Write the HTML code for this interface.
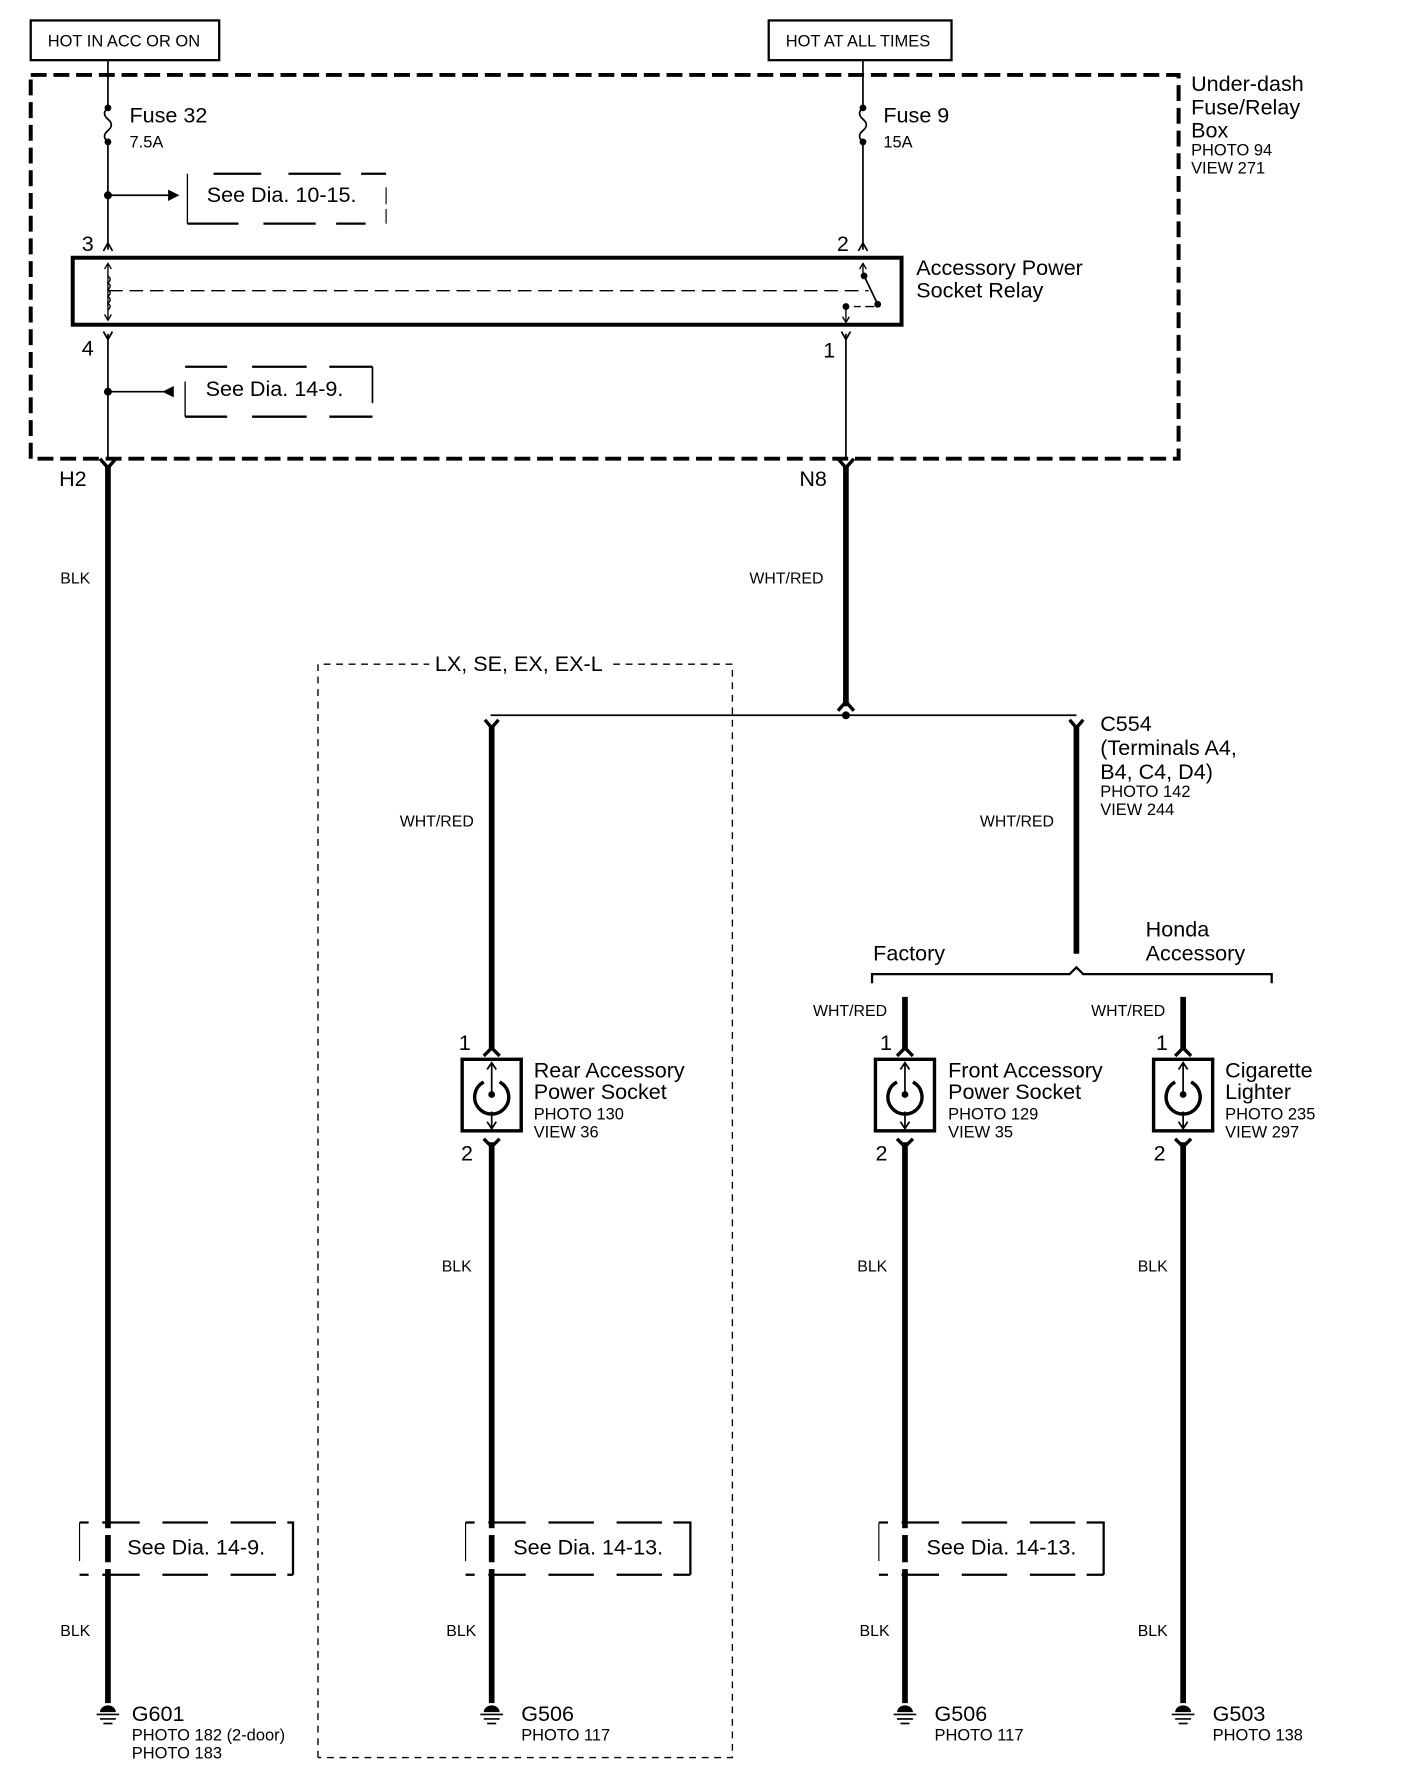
<!DOCTYPE html>
<html><head><meta charset="utf-8"><style>
html,body{margin:0;padding:0;background:#fff;}
svg{display:block;}
text{font-family:"Liberation Sans",sans-serif;fill:#000;}
.l{font-size:19px;}
.s{font-size:14.5px;}
.w{font-size:14px;}
</style></head><body>
<svg width="1408" height="1778" viewBox="0 0 1240 1566" xmlns="http://www.w3.org/2000/svg">
<defs>
<g id="sock">
  <rect x="-26" y="0" width="52" height="63" fill="none" stroke="#000" stroke-width="3"/>
  <path d="M-7,20 A15,15 0 1,0 7,20" fill="none" stroke="#000" stroke-width="3"/>
  <line x1="0" y1="4" x2="0" y2="31" stroke="#000" stroke-width="1.5"/>
  <path d="M-4,9 L0,3 L4,9" fill="none" stroke="#000" stroke-width="1.5"/>
  <circle cx="0" cy="31" r="3"/>
  <line x1="0" y1="46" x2="0" y2="62" stroke="#000" stroke-width="1.5"/>
  <path d="M-4,55 L0,61 L4,55" fill="none" stroke="#000" stroke-width="1.5"/>
</g>
<g id="gnd">
  <path d="M-7,0 A7,6 0 0,1 7,0 Z"/>
  <line x1="-10" y1="2" x2="10" y2="2" stroke="#000" stroke-width="1.5"/>
  <line x1="-7" y1="6" x2="7" y2="6" stroke="#000" stroke-width="1.5"/>
  <line x1="-4" y1="10" x2="4" y2="10" stroke="#000" stroke-width="1.5"/>
</g>
</defs>
<g fill="none" stroke="#000">
<rect x="27" y="18" width="166" height="35" stroke-width="2"/>
<rect x="677" y="18" width="161" height="35" stroke-width="2"/>
<rect x="27" y="66" width="1011" height="338" stroke-width="3.5" stroke-dasharray="14,6"/>
<line x1="95" y1="53" x2="95" y2="93" stroke-width="1.5"/>
<path d="M95,95 q-6,5 0,10 q6,5 0,10 q-6,5 0,10" stroke-width="1.5"/>
<line x1="95" y1="125" x2="95" y2="220" stroke-width="1.5"/>
<line x1="95" y1="172" x2="150" y2="172" stroke-width="1.5"/>
<path d="M188,153 H230 M254,153 H300 M318,153 H340 M165,197 H210 M232,197 H278 M296,197 H322" stroke-width="2"/>
<line x1="165" y1="153" x2="165" y2="197" stroke-width="1.2"/>
<line x1="340" y1="184" x2="340" y2="197" stroke-width="1"/><line x1="340" y1="165" x2="340" y2="180" stroke-width="1"/>
<path d="M91,221 L95,214 L99,221 M756,221 L760,214 L764,221" stroke-width="1.5"/>
<line x1="760" y1="53" x2="760" y2="93" stroke-width="1.5"/>
<path d="M760,95 q-6,5 0,10 q6,5 0,10 q-6,5 0,10" stroke-width="1.5"/>
<line x1="760" y1="125" x2="760" y2="220" stroke-width="1.5"/>
<rect x="64" y="227" width="730" height="59" stroke-width="3.5"/>
<line x1="95" y1="232" x2="95" y2="282" stroke-width="1.2"/>
<path d="M92,237 L95,232 L98,237 M92,277 L95,282 L98,277" stroke-width="1.2"/>
<path d="M95,243 q4,3 0,6 q4,3 0,6 q4,3 0,6 q4,3 0,6 q4,3 0,6" stroke-width="1.2"/>
<line x1="96" y1="256" x2="765" y2="256" stroke-width="1.2" stroke-dasharray="12,6"/>
<line x1="760" y1="232" x2="760" y2="243" stroke-width="1.2"/>
<path d="M757,237 L760,232 L763,237" stroke-width="1.2"/>
<line x1="761" y1="243" x2="773" y2="268" stroke-width="1.5"/>
<path d="M745,270 H748 M752,270 H758 M762,270 H770" stroke-width="1.2"/>
<line x1="745" y1="270" x2="745" y2="284" stroke-width="1.2"/>
<path d="M742,279 L745,284 L748,279" stroke-width="1.2"/>
<path d="M91,292 L95,299 L99,292 M741,292 L745,299 L749,292" stroke-width="1.5"/>
<line x1="95" y1="294" x2="95" y2="404" stroke-width="1.5"/>
<line x1="745" y1="294" x2="745" y2="404" stroke-width="1.5"/>
<line x1="95" y1="345" x2="145" y2="345" stroke-width="1.5"/>
<path d="M163,323 H200 M222,323 H270 M290,323 H328 M163,367 H200 M222,367 H270 M290,367 H328" stroke-width="2"/>
<line x1="163" y1="336" x2="163" y2="367" stroke-width="1.2"/>
<line x1="328" y1="323" x2="328" y2="355" stroke-width="1.5"/>
<path d="M88,404 L95,412 L102,404 M738,404 L745,412 L752,404" stroke-width="3"/>
<line x1="95" y1="410" x2="95" y2="1500" stroke-width="5"/>
<line x1="745" y1="410" x2="745" y2="622" stroke-width="5"/>
<path d="M738,626 L745,618 L752,626" stroke-width="3"/>
<line x1="432" y1="630" x2="948" y2="630" stroke-width="1.5"/>
<path d="M280,1548 V585 H378 M540,585 H645 V1548 H280" stroke-width="1.2" stroke-dasharray="6,5"/>
<path d="M427,634 L433,641 L439,634 M942,634 L948,641 L954,634" stroke-width="3"/>
<line x1="433" y1="640" x2="433" y2="925" stroke-width="5"/>
<line x1="948" y1="640" x2="948" y2="840" stroke-width="5"/>
<path d="M768,866 V858 H942 L948,852 L954,858 H1120 V866" stroke-width="2"/>
<line x1="797" y1="878" x2="797" y2="925" stroke-width="5"/>
<line x1="1042" y1="878" x2="1042" y2="925" stroke-width="5"/>
<path d="M426,930 L433,923 L440,930 M790,930 L797,923 L804,930 M1035,930 L1042,923 L1049,930" stroke-width="3"/>
<path d="M426,1003 L433,1010 L440,1003 M790,1003 L797,1010 L804,1003 M1035,1003 L1042,1010 L1049,1003" stroke-width="3"/>
<line x1="433" y1="1006" x2="433" y2="1500" stroke-width="5"/>
<line x1="797" y1="1006" x2="797" y2="1500" stroke-width="5"/>
<line x1="1042" y1="1006" x2="1042" y2="1500" stroke-width="5"/>
<path d="M70,1341 H78 M90,1341 H123 M143,1341 H183 M203,1341 H243 M253,1341 H258 V1387 M70,1387 H78 M90,1387 H123 M143,1387 H183 M203,1387 H243 M253,1387 H258" stroke-width="2"/>
<line x1="70" y1="1341" x2="70" y2="1375" stroke-width="1"/>
<path d="M410,1341 H418 M430,1341 H463 M483,1341 H523 M543,1341 H583 M593,1341 H608 V1387 M410,1387 H418 M430,1387 H463 M483,1387 H523 M543,1387 H583 M593,1387 H608" stroke-width="2"/>
<line x1="410" y1="1341" x2="410" y2="1375" stroke-width="1"/>
<path d="M774,1341 H782 M794,1341 H827 M847,1341 H887 M907,1341 H947 M957,1341 H972 V1387 M774,1387 H782 M794,1387 H827 M847,1387 H887 M907,1387 H947 M957,1387 H972" stroke-width="2"/>
<line x1="774" y1="1341" x2="774" y2="1375" stroke-width="1"/>
</g>
<g fill="#fff"><rect x="90" y="1346" width="10" height="36"/><rect x="428" y="1346" width="10" height="36"/><rect x="792" y="1346" width="10" height="36"/></g>
<line x1="95" y1="1352" x2="95" y2="1376" stroke="#000" stroke-width="5"/>
<line x1="433" y1="1352" x2="433" y2="1376" stroke="#000" stroke-width="5"/>
<line x1="797" y1="1352" x2="797" y2="1376" stroke="#000" stroke-width="5"/>
<circle cx="95" cy="95" r="3"/><circle cx="95" cy="125" r="3"/>
<circle cx="760" cy="95" r="3"/><circle cx="760" cy="125" r="3"/>
<circle cx="95" cy="172" r="3.5"/><path d="M158,172 L148,167 L148,177 Z"/>
<circle cx="95" cy="345" r="3.5"/><path d="M143,345 L153,340 L153,350 Z"/>
<circle cx="761" cy="243" r="3"/><circle cx="773" cy="268" r="3"/><circle cx="745" cy="270" r="3"/>
<circle cx="745" cy="630" r="3.5"/>
<use href="#sock" x="433" y="933"/><use href="#sock" x="797" y="933"/><use href="#sock" x="1042" y="933"/>
<use href="#gnd" x="95" y="1508"/><use href="#gnd" x="433" y="1508"/><use href="#gnd" x="797" y="1508"/><use href="#gnd" x="1042" y="1508"/>
<text x="42" y="41" class="s">HOT IN ACC OR ON</text>
<text x="692" y="41" class="s">HOT AT ALL TIMES</text>
<text x="114" y="108" class="l">Fuse 32</text><text x="114" y="130" class="s">7.5A</text>
<text x="778" y="108" class="l">Fuse 9</text><text x="778" y="130" class="s">15A</text>
<text x="1049" y="80" class="l">Under-dash</text><text x="1049" y="101" class="l">Fuse/Relay</text><text x="1049" y="121" class="l">Box</text>
<text x="1049" y="137" class="s">PHOTO 94</text><text x="1049" y="153" class="s">VIEW 271</text>
<text x="182" y="178" class="l">See Dia. 10-15.</text>
<text x="181" y="349" class="l">See Dia. 14-9.</text>
<text x="72" y="221" class="l">3</text><text x="737" y="221" class="l">2</text>
<text x="72" y="313" class="l">4</text><text x="725" y="315" class="l">1</text>
<text x="807" y="242" class="l">Accessory Power</text><text x="807" y="262" class="l">Socket Relay</text>
<text x="52" y="428" class="l">H2</text><text x="704" y="428" class="l">N8</text>
<text x="53" y="514" class="w">BLK</text>
<text x="660" y="514" class="w">WHT/RED</text>
<text x="383" y="591" class="l">LX, SE, EX, EX-L</text>
<text x="969" y="644" class="l">C554</text><text x="969" y="665" class="l">(Terminals A4,</text><text x="969" y="686" class="l">B4, C4, D4)</text>
<text x="969" y="702" class="s">PHOTO 142</text><text x="969" y="718" class="s">VIEW 244</text>
<text x="352" y="728" class="w">WHT/RED</text><text x="863" y="728" class="w">WHT/RED</text>
<text x="769" y="846" class="l">Factory</text>
<text x="1009" y="825" class="l">Honda</text><text x="1009" y="846" class="l">Accessory</text>
<text x="716" y="895" class="w">WHT/RED</text><text x="961" y="895" class="w">WHT/RED</text>
<text x="404" y="925" class="l">1</text><text x="775" y="925" class="l">1</text><text x="1018" y="925" class="l">1</text>
<text x="406" y="1022" class="l">2</text><text x="771" y="1022" class="l">2</text><text x="1016" y="1022" class="l">2</text>
<text x="470" y="949" class="l">Rear Accessory</text><text x="470" y="968" class="l">Power Socket</text>
<text x="470" y="986" class="s">PHOTO 130</text><text x="470" y="1002" class="s">VIEW 36</text>
<text x="835" y="949" class="l">Front Accessory</text><text x="835" y="968" class="l">Power Socket</text>
<text x="835" y="986" class="s">PHOTO 129</text><text x="835" y="1002" class="s">VIEW 35</text>
<text x="1079" y="949" class="l">Cigarette</text><text x="1079" y="968" class="l">Lighter</text>
<text x="1079" y="986" class="s">PHOTO 235</text><text x="1079" y="1002" class="s">VIEW 297</text>
<text x="389" y="1120" class="w">BLK</text><text x="755" y="1120" class="w">BLK</text><text x="1002" y="1120" class="w">BLK</text>
<text x="112" y="1369" class="l">See Dia. 14-9.</text>
<text x="452" y="1369" class="l">See Dia. 14-13.</text>
<text x="816" y="1369" class="l">See Dia. 14-13.</text>
<text x="53" y="1441" class="w">BLK</text><text x="393" y="1441" class="w">BLK</text><text x="757" y="1441" class="w">BLK</text><text x="1002" y="1441" class="w">BLK</text>
<text x="116" y="1516" class="l">G601</text><text x="116" y="1533" class="s">PHOTO 182 (2-door)</text><text x="116" y="1549" class="s">PHOTO 183</text>
<text x="459" y="1516" class="l">G506</text><text x="459" y="1533" class="s">PHOTO 117</text>
<text x="823" y="1516" class="l">G506</text><text x="823" y="1533" class="s">PHOTO 117</text>
<text x="1068" y="1516" class="l">G503</text><text x="1068" y="1533" class="s">PHOTO 138</text>
</svg>
</body></html>
